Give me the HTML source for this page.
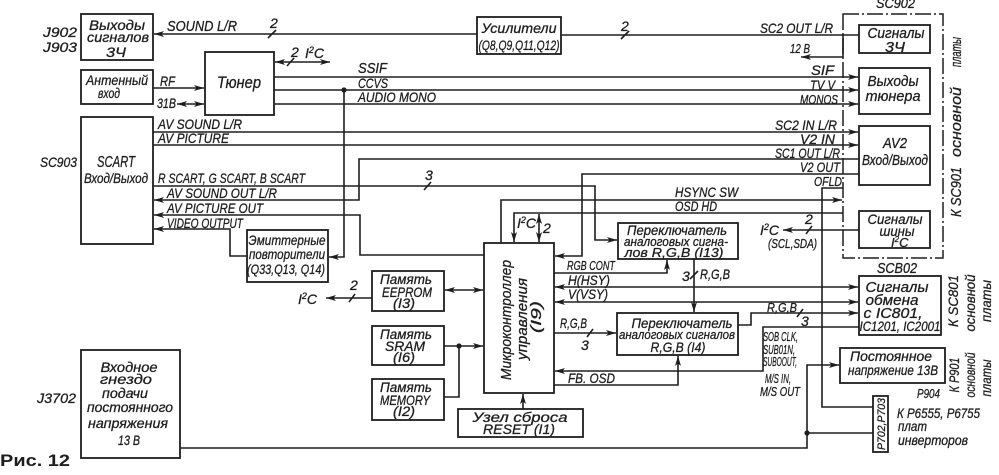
<!DOCTYPE html>
<html><head><meta charset="utf-8"><style>
html,body{margin:0;padding:0;background:#fff;}
svg{display:block;}
text{font-family:"Liberation Sans","DejaVu Sans",sans-serif;font-style:italic;font-size:14px;fill:#1e1e1e;stroke:#1e1e1e;stroke-width:0.3;}
.b{font-style:normal;font-weight:bold;stroke-width:0;}
.ln{fill:none;stroke:#1e1e1e;stroke-width:1.6;}
.bx{fill:none;stroke:#1e1e1e;stroke-width:1.8;}
.s{font-size:13px;}
</style></head><body>
<svg width="999" height="475" viewBox="0 0 999 475" xmlns="http://www.w3.org/2000/svg">
<defs>
<marker id="a" viewBox="0 0 10 6" refX="10" refY="3" markerWidth="10" markerHeight="6" markerUnits="userSpaceOnUse" orient="auto-start-reverse">
<path d="M0,0 L10,3 L0,6 L2.5,3 z" fill="#1e1e1e"/>
</marker>
</defs>
<rect width="999" height="475" fill="#fff"/>

<!-- Boxes -->
<rect class="bx" x="81" y="14" width="72" height="46"/>
<rect class="bx" x="81" y="70" width="72" height="34"/>
<rect class="bx" x="81" y="117" width="72" height="127"/>
<rect class="bx" x="205" y="52" width="69" height="63"/>
<rect class="bx" x="477" y="17" width="84" height="37"/>
<rect class="bx" x="247" y="230" width="81" height="52"/>
<rect class="bx" x="372" y="271" width="72" height="40"/>
<rect class="bx" x="372" y="326" width="72" height="39"/>
<rect class="bx" x="372" y="379" width="72" height="41"/>
<rect class="bx" x="484" y="243" width="70" height="150"/>
<rect class="bx" x="458" y="409" width="125" height="28"/>
<rect class="bx" x="618" y="223" width="120" height="36"/>
<rect class="bx" x="617" y="313" width="121" height="42"/>
<rect class="bx" x="859" y="25" width="71" height="28"/>
<rect class="bx" x="859" y="68" width="71" height="46"/>
<rect class="bx" x="859" y="126" width="71" height="59"/>
<rect class="bx" x="859" y="211" width="71" height="37"/>
<rect class="bx" x="859" y="276" width="82" height="59"/>
<rect class="bx" x="840" y="348" width="105" height="35"/>
<rect class="bx" x="873" y="396" width="15" height="56"/>
<rect class="bx" x="81" y="350" width="99" height="108"/>
<rect x="843" y="14" width="100" height="244" fill="none" stroke="#1e1e1e" stroke-width="1.5" stroke-dasharray="16 3 2 3"/>

<!-- Connectors -->
<path class="ln" d="M477 34 H154" marker-end="url(#a)"/>
<path class="ln" d="M561 35 H859"/>
<path class="ln" d="M843 35 V57 H801" marker-end="url(#a)"/>
<path class="ln" d="M275 62 H330" marker-start="url(#a)" marker-end="url(#a)"/>
<path class="ln" d="M153 88 H204" marker-end="url(#a)"/>
<path class="ln" d="M177 104 H204" marker-start="url(#a)" marker-end="url(#a)"/>
<path class="ln" d="M274 77 H858" marker-end="url(#a)"/>
<path class="ln" d="M274 90 H858" marker-end="url(#a)"/>
<path class="ln" d="M274 104 H858" marker-end="url(#a)"/>
<circle cx="344" cy="90" r="2.6" fill="#1e1e1e"/>
<path class="ln" d="M344 90 V257 H329" marker-end="url(#a)"/>
<path class="ln" d="M153 132 H858" marker-end="url(#a)"/>
<path class="ln" d="M153 145 H858" marker-end="url(#a)"/>
<path class="ln" d="M153 186 H595 V240 H617" marker-end="url(#a)"/>
<path class="ln" d="M859 159 H359 V200 H154" marker-end="url(#a)"/>
<path class="ln" d="M484 255 H360 V215 H154" marker-end="url(#a)"/>
<path class="ln" d="M247 256 H230 V229 H154" marker-end="url(#a)"/>
<path class="ln" d="M859 174 H582 V256 H555" marker-end="url(#a)"/>
<path class="ln" d="M501 243 V200 H842" marker-end="url(#a)"/>
<path class="ln" d="M843 213 H514 V242" marker-end="url(#a)"/>
<path class="ln" d="M539 214 V242" marker-start="url(#a)" marker-end="url(#a)"/>
<path class="ln" d="M843 188 H822 V407 H873"/>
<path class="ln" d="M859 230 H783" marker-end="url(#a)"/>
<path class="ln" d="M554 273 H667 V260" marker-end="url(#a)"/>
<path class="ln" d="M555 287 H858" marker-start="url(#a)" marker-end="url(#a)"/>
<path class="ln" d="M555 302 H858" marker-start="url(#a)" marker-end="url(#a)"/>
<path class="ln" d="M694 259 V312" marker-end="url(#a)"/>
<path class="ln" d="M554 333 H616" marker-end="url(#a)"/>
<path class="ln" d="M738 325 H751 V313 H858" marker-end="url(#a)"/>
<path class="ln" d="M859 327 H763 V371 H555" marker-end="url(#a)"/>
<path class="ln" d="M554 385 H678 V356" marker-end="url(#a)"/>
<path class="ln" d="M180 448 H807 V365 H839" marker-end="url(#a)"/>
<circle cx="807" cy="433" r="2.6" fill="#1e1e1e"/>
<path class="ln" d="M807 433 H873"/>
<path class="ln" d="M445 290 H483" marker-start="url(#a)" marker-end="url(#a)"/>
<path class="ln" d="M372 298 H326" marker-end="url(#a)"/>
<path class="ln" d="M444 346 H483" marker-end="url(#a)"/>
<circle cx="459" cy="346" r="2.6" fill="#1e1e1e"/>
<path class="ln" d="M444 397 H459 V346"/>
<path class="ln" d="M523 409 V394" marker-end="url(#a)"/>

<!-- bus slashes -->
<path class="ln" d="M268 38 L276 30"/>
<path class="ln" d="M621 39 L629 31"/>
<path class="ln" d="M287 66 L294 58"/>
<path class="ln" d="M424 190 L431 182"/>
<path class="ln" d="M806 234 L812 226"/>
<path class="ln" d="M690 279 L698 271"/>
<path class="ln" d="M587 337 L593 329"/>
<path class="ln" d="M797 317 L803 309"/>
<path class="ln" d="M349 302 L355 294"/>

<!-- Labels left -->
<text x="43" y="37" textLength="34" lengthAdjust="spacingAndGlyphs">J902</text>
<text x="43" y="52" textLength="34" lengthAdjust="spacingAndGlyphs">J903</text>
<text x="40" y="167" textLength="37" lengthAdjust="spacingAndGlyphs">SC903</text>
<text x="37" y="403" textLength="39" lengthAdjust="spacingAndGlyphs">J3702</text>
<text class="b" x="0" y="466" style="font-size:17px" textLength="70" lengthAdjust="spacingAndGlyphs">Рис. 12</text>

<text x="117" y="30" text-anchor="middle" textLength="56" lengthAdjust="spacingAndGlyphs">Выходы</text>
<text x="118" y="42" text-anchor="middle" textLength="62" lengthAdjust="spacingAndGlyphs">сигналов</text>
<text x="116" y="57" text-anchor="middle" textLength="20" lengthAdjust="spacingAndGlyphs">3Ч</text>
<text x="117" y="85" text-anchor="middle" textLength="62" lengthAdjust="spacingAndGlyphs">Антенный</text>
<text x="109" y="98" text-anchor="middle" textLength="22" lengthAdjust="spacingAndGlyphs">вход</text>
<text x="116" y="167" text-anchor="middle" style="font-size:16px" textLength="38" lengthAdjust="spacingAndGlyphs">SCART</text>
<text x="116" y="183" text-anchor="middle" textLength="64" lengthAdjust="spacingAndGlyphs">Вход/Выход</text>
<text x="239" y="88" text-anchor="middle" style="font-size:17px" textLength="44" lengthAdjust="spacingAndGlyphs">Тюнер</text>

<text x="167" y="31" style="font-size:14.5px" textLength="70" lengthAdjust="spacingAndGlyphs">SOUND L/R</text>
<text x="270" y="28">2</text>
<text x="291" y="57">2</text>
<text x="305" y="58">I<tspan dy="-5" style="font-size:9px">2</tspan><tspan dy="5">C</tspan></text>
<text x="160" y="86" textLength="15" lengthAdjust="spacingAndGlyphs">RF</text>
<text x="157" y="108" textLength="19" lengthAdjust="spacingAndGlyphs">31В</text>

<text x="158" y="129" textLength="84" lengthAdjust="spacingAndGlyphs">AV SOUND L/R</text>
<text x="158" y="143" textLength="71" lengthAdjust="spacingAndGlyphs">AV PICTURE</text>
<text x="158" y="183" textLength="147" lengthAdjust="spacingAndGlyphs">R SCART, G SCART, B SCART</text>
<text x="167" y="198" textLength="110" lengthAdjust="spacingAndGlyphs">AV SOUND OUT L/R</text>
<text x="167" y="213" textLength="96" lengthAdjust="spacingAndGlyphs">AV PICTURE OUT</text>
<text x="167" y="228" textLength="76" lengthAdjust="spacingAndGlyphs">VIDEO OUTPUT</text>
<text x="425" y="180">3</text>

<text x="519" y="33" text-anchor="middle" textLength="75" lengthAdjust="spacingAndGlyphs">Усилители</text>
<text x="519" y="50" text-anchor="middle" textLength="81" lengthAdjust="spacingAndGlyphs">(Q8,Q9,Q11,Q12)</text>
<text x="621" y="31">2</text>

<text x="358" y="73" style="font-size:15px" textLength="29" lengthAdjust="spacingAndGlyphs">SSIF</text>
<text x="358" y="88" textLength="30" lengthAdjust="spacingAndGlyphs">CCVS</text>
<text x="358" y="102" textLength="78" lengthAdjust="spacingAndGlyphs">AUDIO MONO</text>

<text x="287" y="245" text-anchor="middle" textLength="77" lengthAdjust="spacingAndGlyphs">Эмиттерные</text>
<text x="287" y="259" text-anchor="middle" textLength="76" lengthAdjust="spacingAndGlyphs">повторители</text>
<text x="286" y="274" text-anchor="middle" textLength="78" lengthAdjust="spacingAndGlyphs">(Q33,Q13, Q14)</text>

<!-- memories -->
<text x="406" y="284" text-anchor="middle" textLength="52" lengthAdjust="spacingAndGlyphs">Память</text>
<text x="407" y="297" text-anchor="middle" textLength="50" lengthAdjust="spacingAndGlyphs">EEPROM</text>
<text x="404" y="308" text-anchor="middle" textLength="22" lengthAdjust="spacingAndGlyphs">(I3)</text>
<text x="406" y="339" text-anchor="middle" textLength="52" lengthAdjust="spacingAndGlyphs">Память</text>
<text x="405" y="351" text-anchor="middle" textLength="40" lengthAdjust="spacingAndGlyphs">SRAM</text>
<text x="404" y="362" text-anchor="middle" textLength="22" lengthAdjust="spacingAndGlyphs">(I6)</text>
<text x="406" y="392" text-anchor="middle" textLength="52" lengthAdjust="spacingAndGlyphs">Память</text>
<text x="405" y="405" text-anchor="middle" textLength="50" lengthAdjust="spacingAndGlyphs">MEMORY</text>
<text x="404" y="416" text-anchor="middle" textLength="22" lengthAdjust="spacingAndGlyphs">(I2)</text>
<text x="350" y="290">2</text>
<text x="298" y="304">I<tspan dy="-5" style="font-size:9px">2</tspan><tspan dy="5">C</tspan></text>

<!-- MCU -->
<text transform="translate(511,320) rotate(-90)" text-anchor="middle" style="font-size:15px" textLength="120" lengthAdjust="spacingAndGlyphs">Микроконтроллер</text>
<text transform="translate(527,319) rotate(-90)" text-anchor="middle" style="font-size:15px" textLength="82" lengthAdjust="spacingAndGlyphs">управления</text>
<text transform="translate(541,317) rotate(-90)" text-anchor="middle" style="font-size:15px" textLength="32" lengthAdjust="spacingAndGlyphs">(I9)</text>
<text x="517" y="228">I<tspan dy="-5" style="font-size:9px">2</tspan><tspan dy="5">C</tspan></text>
<text x="543" y="233">2</text>
<text x="520" y="422" text-anchor="middle" textLength="95" lengthAdjust="spacingAndGlyphs">Узел    сброса</text>
<text x="519" y="434" text-anchor="middle" textLength="72" lengthAdjust="spacingAndGlyphs">RESET (I1)</text>

<text x="567" y="270" class="s" textLength="48" lengthAdjust="spacingAndGlyphs">RGB CONT</text>
<text x="568" y="285" textLength="42" lengthAdjust="spacingAndGlyphs">H(HSY)</text>
<text x="568" y="299" textLength="40" lengthAdjust="spacingAndGlyphs">V(VSY)</text>
<text x="560" y="328" textLength="27" lengthAdjust="spacingAndGlyphs">R,G,B</text>
<text x="581" y="350">3</text>
<text x="568" y="383" textLength="47" lengthAdjust="spacingAndGlyphs">FB. OSD</text>

<!-- switches -->
<text x="677" y="235" text-anchor="middle" textLength="100" lengthAdjust="spacingAndGlyphs">Переключатель</text>
<text x="676" y="246" text-anchor="middle" class="s" textLength="104" lengthAdjust="spacingAndGlyphs">аналоговых сигна-</text>
<text x="674" y="257" text-anchor="middle" class="s" textLength="99" lengthAdjust="spacingAndGlyphs">лов  R,G,B   (I13)</text>
<text x="682" y="281">3</text>
<text x="700" y="279" textLength="30" lengthAdjust="spacingAndGlyphs">R,G,B</text>
<text x="682" y="328" text-anchor="middle" textLength="101" lengthAdjust="spacingAndGlyphs">Переключатель</text>
<text x="677" y="339" text-anchor="middle" class="s" textLength="116" lengthAdjust="spacingAndGlyphs">аналоговых сигналов</text>
<text x="678" y="352" text-anchor="middle" textLength="55" lengthAdjust="spacingAndGlyphs">R,G,B (I4)</text>
<text x="767" y="312" class="s" textLength="30" lengthAdjust="spacingAndGlyphs">R,G,B</text>
<text x="801" y="326">3</text>

<text x="763" y="341" class="s" textLength="35" lengthAdjust="spacingAndGlyphs">SOB CLK,</text>
<text x="763" y="354" class="s" textLength="32" lengthAdjust="spacingAndGlyphs">SUB01N,</text>
<text x="763" y="366" class="s" textLength="34" lengthAdjust="spacingAndGlyphs">SUBOOUT,</text>
<text x="765" y="383" class="s" textLength="26" lengthAdjust="spacingAndGlyphs">M/S IN,</text>
<text x="760" y="396" class="s" textLength="40" lengthAdjust="spacingAndGlyphs">M/S OUT</text>

<!-- right side labels -->
<text x="876" y="8" textLength="39" lengthAdjust="spacingAndGlyphs">SC902</text>
<text x="833" y="33" text-anchor="end" textLength="73" lengthAdjust="spacingAndGlyphs">SC2 OUT L/R</text>
<text x="790" y="53" class="s" textLength="20" lengthAdjust="spacingAndGlyphs">12 В</text>
<text x="834" y="75" text-anchor="end" textLength="23" lengthAdjust="spacingAndGlyphs">SIF</text>
<text x="835" y="90" text-anchor="end" textLength="25" lengthAdjust="spacingAndGlyphs">TV V</text>
<text x="838" y="104" text-anchor="end" class="s" textLength="38" lengthAdjust="spacingAndGlyphs">MONOS</text>
<text x="837" y="130" text-anchor="end" textLength="62" lengthAdjust="spacingAndGlyphs">SC2 IN L/R</text>
<text x="835" y="144" text-anchor="end" textLength="35" lengthAdjust="spacingAndGlyphs">V2 IN</text>
<text x="840" y="158" text-anchor="end" textLength="65" lengthAdjust="spacingAndGlyphs">SC1 OUT L/R</text>
<text x="840" y="172" text-anchor="end" textLength="40" lengthAdjust="spacingAndGlyphs">V2 OUT</text>
<text x="842" y="186" text-anchor="end" class="s" textLength="28" lengthAdjust="spacingAndGlyphs">OFLD</text>
<text x="675" y="197" textLength="63" lengthAdjust="spacingAndGlyphs">HSYNC SW</text>
<text x="675" y="211" textLength="42" lengthAdjust="spacingAndGlyphs">OSD HD</text>
<text x="760" y="235">I<tspan dy="-5" style="font-size:9px">2</tspan><tspan dy="5">C</tspan></text>
<text x="805" y="224">2</text>
<text x="768" y="248" class="s" textLength="49" lengthAdjust="spacingAndGlyphs">(SCL,SDA)</text>

<text x="896" y="38" text-anchor="middle" style="font-size:15px" textLength="57" lengthAdjust="spacingAndGlyphs">Сигналы</text>
<text x="895" y="52" text-anchor="middle" style="font-size:15px" textLength="20" lengthAdjust="spacingAndGlyphs">3Ч</text>
<text x="893" y="86" text-anchor="middle" style="font-size:15px" textLength="51" lengthAdjust="spacingAndGlyphs">Выходы</text>
<text x="893" y="101" text-anchor="middle" style="font-size:15px" textLength="55" lengthAdjust="spacingAndGlyphs">тюнера</text>
<text x="895" y="148" text-anchor="middle" style="font-size:15px" textLength="24" lengthAdjust="spacingAndGlyphs">AV2</text>
<text x="895" y="165" text-anchor="middle" style="font-size:15px" textLength="66" lengthAdjust="spacingAndGlyphs">Вход/Выход</text>
<text x="895" y="224" text-anchor="middle" textLength="55" lengthAdjust="spacingAndGlyphs">Сигналы</text>
<text x="897" y="236" text-anchor="middle" textLength="35" lengthAdjust="spacingAndGlyphs">шины</text>
<text x="891" y="247" style="font-size:13px">I<tspan dy="-5" style="font-size:8px">2</tspan><tspan dy="5">C</tspan></text>
<text x="877" y="273" style="font-size:15px" textLength="40" lengthAdjust="spacingAndGlyphs">SCB02</text>
<text x="897" y="292" text-anchor="middle" style="font-size:15px" textLength="63" lengthAdjust="spacingAndGlyphs">Сигналы</text>
<text x="892" y="305" text-anchor="middle" style="font-size:15px" textLength="53" lengthAdjust="spacingAndGlyphs">обмена</text>
<text x="893" y="318" text-anchor="middle" style="font-size:15px" textLength="59" lengthAdjust="spacingAndGlyphs">с IC801,</text>
<text x="900" y="331" text-anchor="middle" textLength="81" lengthAdjust="spacingAndGlyphs">IC1201, IC2001</text>
<text x="891" y="361" text-anchor="middle" textLength="82" lengthAdjust="spacingAndGlyphs">Постоянное</text>
<text x="893" y="375" text-anchor="middle" textLength="90" lengthAdjust="spacingAndGlyphs">напряжение 13В</text>
<text x="917" y="398" class="s" textLength="23" lengthAdjust="spacingAndGlyphs">P904</text>
<text transform="translate(885,424) rotate(-90)" text-anchor="middle" style="font-size:11px" textLength="52" lengthAdjust="spacingAndGlyphs">P702,P703</text>
<text x="897" y="418" textLength="83" lengthAdjust="spacingAndGlyphs">К P6555, P6755</text>
<text x="898" y="431" textLength="29" lengthAdjust="spacingAndGlyphs">плат</text>
<text x="898" y="445" textLength="70" lengthAdjust="spacingAndGlyphs">инверторов</text>

<text transform="translate(961,52) rotate(-90)" text-anchor="middle" style="font-size:15px" textLength="30" lengthAdjust="spacingAndGlyphs">платы</text>
<text transform="translate(961,122) rotate(-90)" text-anchor="middle" style="font-size:15px" textLength="70" lengthAdjust="spacingAndGlyphs">основной</text>
<text transform="translate(961,192) rotate(-90)" text-anchor="middle" style="font-size:15px" textLength="50" lengthAdjust="spacingAndGlyphs">К SC901</text>
<text transform="translate(958,301) rotate(-90)" text-anchor="middle" textLength="52" lengthAdjust="spacingAndGlyphs">К SC801</text>
<text transform="translate(975,303) rotate(-90)" text-anchor="middle" textLength="57" lengthAdjust="spacingAndGlyphs">основной</text>
<text transform="translate(991,301) rotate(-90)" text-anchor="middle" textLength="42" lengthAdjust="spacingAndGlyphs">платы</text>
<text transform="translate(959,375) rotate(-90)" text-anchor="middle" textLength="35" lengthAdjust="spacingAndGlyphs">К P901</text>
<text transform="translate(975,375) rotate(-90)" text-anchor="middle" textLength="45" lengthAdjust="spacingAndGlyphs">основной</text>
<text transform="translate(991,378) rotate(-90)" text-anchor="middle" textLength="37" lengthAdjust="spacingAndGlyphs">платы</text>

<!-- J3702 box text -->
<text x="129" y="372" text-anchor="middle" textLength="57" lengthAdjust="spacingAndGlyphs">Входное</text>
<text x="126" y="384" text-anchor="middle" textLength="52" lengthAdjust="spacingAndGlyphs">гнездо</text>
<text x="125" y="398" text-anchor="middle" textLength="46" lengthAdjust="spacingAndGlyphs">подачи</text>
<text x="130" y="412" text-anchor="middle" textLength="86" lengthAdjust="spacingAndGlyphs">постоянного</text>
<text x="128" y="428" text-anchor="middle" textLength="80" lengthAdjust="spacingAndGlyphs">напряжения</text>
<text x="129" y="445" text-anchor="middle" textLength="22" lengthAdjust="spacingAndGlyphs">13 В</text>
</svg>
</body></html>
